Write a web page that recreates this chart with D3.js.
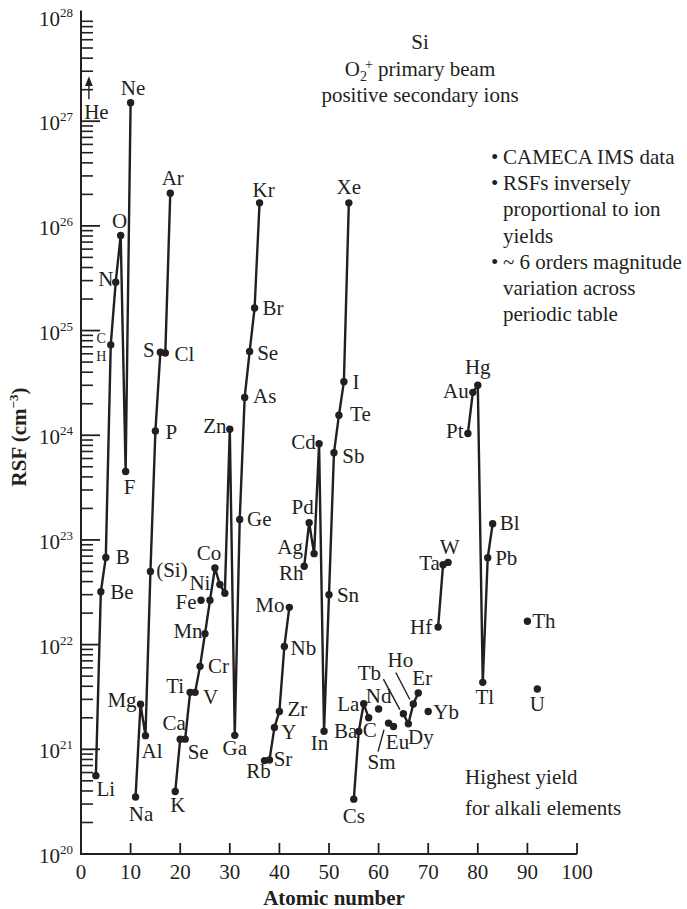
<!DOCTYPE html>
<html>
<head>
<meta charset="utf-8">
<script src="https://cdn.jsdelivr.net/npm/d3@7"></script>
<style>
  html, body { margin: 0; padding: 0; background: #fff; }
  svg, svg text, svg tspan {
    font-family: "Liberation Serif", "Tinos", "Times New Roman", "Times", "DejaVu Serif", serif;
  }
  svg { display: block; }
</style>
</head>
<body>
<svg id="chart" width="687" height="909"></svg>
<script>
// Relative sensitivity factors (RSF) for Si, O2+ primary beam, positive secondary ions
const symbols = ["Li","Be","B","C","N","O","F","Ne",
  "Na","Mg","Al","Si","P","S","Cl","Ar",
  "K","Ca","Sc","Ti","V","Cr","Mn","Fe","Co","Ni","Cu","Zn","Ga","Ge","As","Se","Br","Kr",
  "Rb","Sr","Y","Zr","Nb","Mo",
  "Rh","Pd","Ag","Cd","In","Sn","Sb","Te","I","Xe",
  "Cs","Ba","La","Ce","Nd","Sm","Eu","Tb","Dy","Ho","Er","Yb",
  "Hf","Ta","W",
  "Pt","Au","Hg","Tl","Pb","Bi",
  "Th","U"];
const atomicNumbers = [3,4,5,6,7,8,9,10,
  11,12,13,14,15,16,17,18,
  19,20,21,22,23,24,25,26,27,28,29,30,31,32,33,34,35,36,
  37,38,39,40,41,42,
  45,46,47,48,49,50,51,52,53,54,
  55,56,57,58,60,62,63,65,66,67,68,70,
  72,73,74,
  78,79,80,81,82,83,
  90,92];
const rsfValues = [5.6e20,3.2e22,6.8e22,7.3e24,2.9e25,8.1e25,4.5e23,1.5e27,
  3.5e20,2.7e21,1.35e21,5.0e22,1.1e24,6.2e24,6.1e24,2.05e26,
  3.95e20,1.25e21,1.25e21,3.5e21,3.5e21,6.2e21,1.27e22,2.65e22,5.4e22,3.75e22,3.1e22,1.14e24,1.36e21,1.57e23,2.3e24,6.3e24,1.64e25,1.66e26,
  7.8e20,7.9e20,1.62e21,2.3e21,9.6e21,2.27e22,
  5.6e22,1.46e23,7.4e22,8.3e23,1.49e21,3.0e22,6.8e23,1.55e24,3.24e24,1.66e26,
  3.34e20,1.48e21,2.72e21,2.0e21,2.43e21,1.78e21,1.65e21,2.19e21,1.75e21,2.71e21,3.45e21,2.3e21,
  1.47e22,5.8e22,6.1e22,
  1.04e24,2.57e24,3.0e24,4.36e21,6.76e22,1.43e23,
  1.67e22,3.77e21];

// Elements joined by a line
const chains = [
  ["Li","Be","B","C","N","O","F","Ne"],
  ["Na","Mg","Al","Si","P","S"],
  ["Cl","Ar"],
  ["K","Ca","Sc","Ti","V","Cr","Mn","Fe","Co","Ni","Cu","Zn","Ga","Ge","As","Se","Br","Kr"],
  ["Rb","Sr","Y","Zr","Nb","Mo"],
  ["Rh","Pd","Ag","Cd","In","Sn","Sb","Te","I","Xe"],
  ["Cs","Ba","La","Ce"],
  ["Sm","Eu"],
  ["Tb","Dy","Ho","Er"],
  ["Hf","Ta","W"],
  ["Pt","Au","Hg","Tl","Pb","Bi"]
];

// Extra Fe marker beside its label
const extraZ = [24.2];
const extraRsf = [2.65e22];

// He lies off scale: arrow from / to
const heZ = [2];
const heArrow = [1.62e27, 2.57e27];

// Label text where it differs from the symbol
const labelText = { Si: "(Si)", Sc: "Se", Ce: "C", Bi: "Bl", Cu: "" };

const xTicks = [0,10,20,30,40,50,60,70,80,90,100];
const yExponents = [20,21,22,23,24,25,26,27,28];

// ---- layout ----
const plot = { left: 81, right: 577, top: 16.5, bottom: 854 };
const ink = "#231f20";
const fontSize = 21;

// Label offsets (dx, dy) from each point, in px
const labelOffsets = {
  Li:[10,13], Be:[21,0], B:[17,0], C:[-9.5,-6.5], N:[-10,-3.5], O:[-1,-14], F:[4,15.5], Ne:[2.5,-14.5],
  Na:[5.5,16.5], Mg:[-18.5,-4], Al:[6.5,15], Si:[21.5,-1.5], P:[16,1.5], S:[-11.5,-2], Cl:[19,1], Ar:[2.5,-15.5],
  K:[2.5,13.5], Ca:[-6,-16], Sc:[13,13], Ti:[-15,-6.5], V:[15.5,4.5], Cr:[18.5,0], Mn:[-17,-3], Fe:[-24,2],
  Co:[-6,-14.5], Ni:[-20,-2], Zn:[-15,-3], Ga:[0,12.5], Ge:[19.5,0], As:[20,-1.5], Se:[18,1.5], Br:[18.5,0], Kr:[4,-13],
  Rb:[-6,10], Sr:[13.5,-1], Y:[14.5,4.5], Zr:[18,-2.5], Nb:[19,1.5], Mo:[-19.5,-2.5],
  Rh:[-13,6.5], Pd:[-6.5,-15.5], Ag:[-24,-7], Cd:[-15.5,-1.5], In:[-4.5,12], Sn:[19,0], Sb:[19.5,3.5], Te:[21.5,-1], I:[12,0], Xe:[0,-16],
  Cs:[0,16.5], Ba:[-13,-0.5], La:[-15.5,0], Ce:[1,12], Nd:[0,-12.5], Sm:[-7,39], Eu:[4,15.5], Tb:[-34,-41], Dy:[12.5,13],
  Ho:[-13,-44], Er:[4,-15], Yb:[18,1],
  Hf:[-17,0], Ta:[-13.5,-2], W:[1.5,-15.5],
  Pt:[-13,-2], Au:[-17,-1], Hg:[0,-18], Tl:[2,14.5], Pb:[18.5,0], Bi:[17,-1],
  Th:[16.5,0], U:[0,15]
};
// Leader lines from label to point: [x1, y1, x2, y2] relative to the point
const leaders = {
  Tb: [-20,-34.5,-3.5,-4],
  Ho: [-17.5,-31.5,-3.5,-4.5],
  Sm: [-4.5,6.5,-10.5,28.5]
};

const svg = d3.select("#chart");

const x = d3.scaleLinear().domain([0, 100]).range([plot.left, plot.right]);
const y = d3.scaleLog().domain([1e20, 1e28]).range([plot.bottom, plot.top]);

const points = symbols.map((s, i) => ({ sym: s, z: atomicNumbers[i], v: rsfValues[i] }));
const bySym = new Map(points.map(p => [p.sym, p]));

// ---- axes ----
const axes = svg.append("g").attr("stroke", ink).attr("stroke-width", 2).attr("fill", "none");
axes.append("line").attr("x1", plot.left).attr("x2", plot.left)
  .attr("y1", y(1e28) - 6).attr("y2", plot.bottom + 1);
axes.append("line").attr("x1", plot.left - 1).attr("x2", plot.right)
  .attr("y1", plot.bottom).attr("y2", plot.bottom);

// y ticks: decades long, 2..9 short, drawn inside the frame
const minorTicks = [];
for (let e = 20; e < 28; e++) for (let m = 2; m <= 9; m++) minorTicks.push(m * Math.pow(10, e));
axes.selectAll(".ymin").data(minorTicks).join("line")
  .attr("x1", plot.left).attr("x2", plot.left + 12)
  .attr("y1", d => y(d)).attr("y2", d => y(d))
  .attr("stroke-width", 1.6);
axes.selectAll(".ymaj").data(yExponents.filter(e => e > 20 && e < 28)).join("line")
  .attr("x1", plot.left).attr("x2", plot.left + 19)
  .attr("y1", e => y(Math.pow(10, e))).attr("y2", e => y(Math.pow(10, e)))
  .attr("stroke-width", 1.8);

// x ticks pointing up
axes.selectAll(".xt").data(xTicks.filter(t => t > 0)).join("line")
  .attr("x1", d => x(d)).attr("x2", d => x(d))
  .attr("y1", plot.bottom).attr("y2", plot.bottom - 11)
  .attr("stroke-width", 1.8);

// y tick labels 10^n
const yl = svg.append("g").attr("fill", ink).attr("font-size", fontSize);
yExponents.forEach(e => {
  const t = yl.append("text").attr("x", plot.left - 8).attr("y", y(Math.pow(10, e)) + 9)
    .attr("text-anchor", "end");
  t.append("tspan").text("10");
  t.append("tspan").attr("font-size", 13).attr("dy", -9).text(String(e));
});

// x tick labels
svg.append("g").attr("fill", ink).attr("font-size", fontSize).attr("text-anchor", "middle")
  .selectAll("text").data(xTicks).join("text")
  .attr("x", d => x(d)).attr("y", plot.bottom + 25).text(d => d);

// axis titles
svg.append("text").attr("x", 334).attr("y", 905).attr("text-anchor", "middle")
  .attr("font-weight", "bold").attr("font-size", fontSize).attr("fill", ink).text("Atomic number");
const yt = svg.append("text").attr("transform", "translate(26,437) rotate(-90)")
  .attr("text-anchor", "middle").attr("font-weight", "bold").attr("font-size", fontSize).attr("fill", ink);
yt.append("tspan").text("RSF (cm");
yt.append("tspan").attr("font-size", 13).attr("dy", -8).text("−3");
yt.append("tspan").attr("dy", 8).text(")");

// ---- data ----
const line = d3.line().x(p => x(p.z)).y(p => y(p.v));
svg.append("g").attr("fill", "none").attr("stroke", ink).attr("stroke-width", 2.4)
  .attr("stroke-linejoin", "round")
  .selectAll("path").data(chains).join("path")
  .attr("d", c => line(c.map(s => bySym.get(s))));

svg.append("g").attr("fill", ink)
  .selectAll("circle").data(points).join("circle")
  .attr("cx", p => x(p.z)).attr("cy", p => y(p.v)).attr("r", 3.7);

svg.append("g").attr("fill", ink)
  .selectAll("circle").data(extraZ.map((z, i) => ({ z, v: extraRsf[i] }))).join("circle")
  .attr("cx", p => x(p.z)).attr("cy", p => y(p.v)).attr("r", 3.7);

// element labels
const lab = svg.append("g").attr("fill", ink).attr("font-size", fontSize)
  .attr("text-anchor", "middle").attr("dominant-baseline", "central");
points.forEach(p => {
  const txt = labelText[p.sym] !== undefined ? labelText[p.sym] : p.sym;
  if (!txt) return;
  const off = labelOffsets[p.sym] || [0, 0];
  const t = lab.append("text").attr("x", x(p.z) + off[0]).attr("y", y(p.v) + off[1]).text(txt);
  if (p.sym === "C") t.attr("font-size", 14);
});
// H shares the C point, small label below C
{
  const c = bySym.get("C");
  lab.append("text").attr("x", x(c.z) - 9.5).attr("y", y(c.v) + 11.5).attr("font-size", 14).text("H");
}

// leader lines
const lead = svg.append("g").attr("stroke", ink).attr("stroke-width", 1.4);
Object.keys(leaders).forEach(s => {
  const p = bySym.get(s), l = leaders[s];
  lead.append("line")
    .attr("x1", x(p.z) + l[0]).attr("y1", y(p.v) + l[1])
    .attr("x2", x(p.z) + l[2]).attr("y2", y(p.v) + l[3]);
});

// He arrow (off scale)
{
  const hx = x(heZ[0]) - 2;
  svg.append("defs").append("marker").attr("id", "ah").attr("viewBox", "0 0 10 10")
    .attr("refX", 5).attr("refY", 5).attr("markerWidth", 7).attr("markerHeight", 8)
    .attr("orient", "auto")
    .append("path").attr("d", "M0,1 L10,5 L0,9 Z").attr("fill", ink);
  svg.append("line").attr("x1", hx).attr("x2", hx)
    .attr("y1", y(heArrow[0])).attr("y2", y(heArrow[1]) + 3)
    .attr("stroke", ink).attr("stroke-width", 1.4).attr("marker-end", "url(#ah)");
  svg.append("text").attr("x", hx + 7.5).attr("y", y(heArrow[0]) + 13)
    .attr("text-anchor", "middle").attr("dominant-baseline", "central")
    .attr("font-size", fontSize).attr("fill", ink).text("He");
}

// ---- annotations ----
const ann = svg.append("g").attr("fill", ink).attr("font-size", fontSize);
ann.append("text").attr("x", 420).attr("y", 49).attr("text-anchor", "middle").text("Si");
{
  const t = ann.append("text").attr("x", 420).attr("y", 76).attr("text-anchor", "middle");
  t.append("tspan").text("O");
  t.append("tspan").attr("font-size", 14).attr("dy", 5).text("2");
  t.append("tspan").attr("font-size", 14).attr("dy", -12).attr("dx", -2).text("+");
  t.append("tspan").attr("dy", 7).text(" primary beam");
}
ann.append("text").attr("x", 420).attr("y", 102).attr("text-anchor", "middle").text("positive secondary ions");

const notes = [
  ["•", "CAMECA IMS data"],
  ["•", "RSFs inversely"],
  ["", "proportional to ion"],
  ["", "yields"],
  ["•", "~ 6 orders magnitude"],
  ["", "variation across"],
  ["", "periodic table"]
];
notes.forEach((n, i) => {
  const yy = 164 + i * 26.2;
  if (n[0]) ann.append("text").attr("x", 491).attr("y", yy).text(n[0]);
  ann.append("text").attr("x", 503).attr("y", yy).text(n[1]);
});
ann.append("text").attr("x", 465).attr("y", 784).text("Highest yield");
ann.append("text").attr("x", 465).attr("y", 815).text("for alkali elements");
</script>
</body>
</html>
